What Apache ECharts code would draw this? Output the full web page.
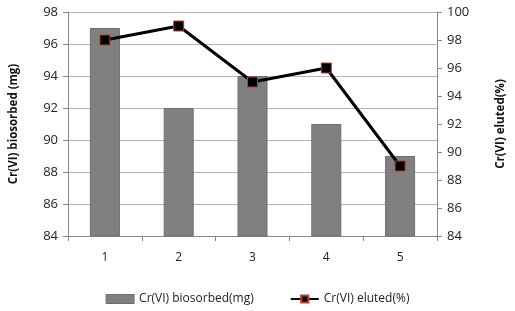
<!DOCTYPE html>
<html>
<head>
<meta charset="utf-8">
<script src="https://cdn.jsdelivr.net/npm/echarts@6/dist/echarts.min.js"></script>
<style>
  html, body { margin: 0; padding: 0; background: #fff; }
  #chart { width: 515px; height: 311px; }
</style>
</head>
<body>
<div id="chart"></div>
<script>
// data
var categories = ['1', '2', '3', '4', '5'];
var biosorbed = [97, 92, 94, 91, 89];   // left axis, mg
var eluted = [98, 99, 95, 96, 89];      // right axis, %

var font = 'Open Sans';
var myChart = echarts.init(document.getElementById('chart'));
var option = {
  animation: false,
  textStyle: { fontFamily: font },
  grid: { left: 63, right: 74, top: 12, bottom: 75 },
  legend: {
    bottom: 1,
    itemGap: 36,
    textStyle: { fontFamily: font, fontSize: 12, color: '#222' },
    data: [
      { name: 'Cr(VI) biosorbed(mg)', icon: 'rect', itemStyle: { color: '#808080', borderColor: '#6e6e6e', borderWidth: 1 } },
      { name: 'Cr(VI) eluted(%)' }
    ],
    itemWidth: 28,
    itemHeight: 9
  },
  xAxis: {
    type: 'category',
    data: categories,
    axisLine: { lineStyle: { color: '#888', width: 1 } },
    axisTick: { show: true, length: 5, lineStyle: { color: '#888' } },
    axisLabel: { color: '#222', fontSize: 12, margin: 16 }
  },
  yAxis: [
    {
      type: 'value',
      min: 84, max: 98, interval: 2,
      name: 'Cr(VI) biosorbed (mg)',
      nameLocation: 'middle',
      nameGap: 48,
      nameTextStyle: { fontWeight: 'bold', fontSize: 11.5, color: '#111' },
      axisLine: { show: true, lineStyle: { color: '#888' } },
      axisTick: { show: true, length: 5, lineStyle: { color: '#888' } },
      axisLabel: { color: '#222', fontSize: 13, margin: 10 },
      splitLine: { lineStyle: { color: '#b4b4b4', width: 1 } }
    },
    {
      type: 'value',
      min: 84, max: 100, interval: 2,
      name: 'Cr(VI) eluted(%)',
      nameLocation: 'middle',
      nameGap: 58,
      nameRotate: 90,
      nameTextStyle: { fontWeight: 'bold', fontSize: 11.5, color: '#111' },
      axisLine: { show: true, lineStyle: { color: '#888' } },
      axisTick: { show: true, length: 5, lineStyle: { color: '#888' } },
      axisLabel: { color: '#222', fontSize: 13, margin: 10 },
      splitLine: { show: false }
    }
  ],
  series: [
    {
      name: 'Cr(VI) biosorbed(mg)',
      type: 'bar',
      yAxisIndex: 0,
      barWidth: 30,
      data: biosorbed,
      itemStyle: { color: '#808080', borderColor: '#6e6e6e', borderWidth: 1 }
    },
    {
      name: 'Cr(VI) eluted(%)',
      type: 'line',
      yAxisIndex: 1,
      data: eluted,
      symbol: 'rect',
      symbolSize: 10,
      lineStyle: { color: '#000', width: 3 },
      itemStyle: { color: '#000', borderColor: '#c0392b', borderWidth: 1 }
    }
  ]
};
myChart.setOption(option);
</script>
</body>
</html>
